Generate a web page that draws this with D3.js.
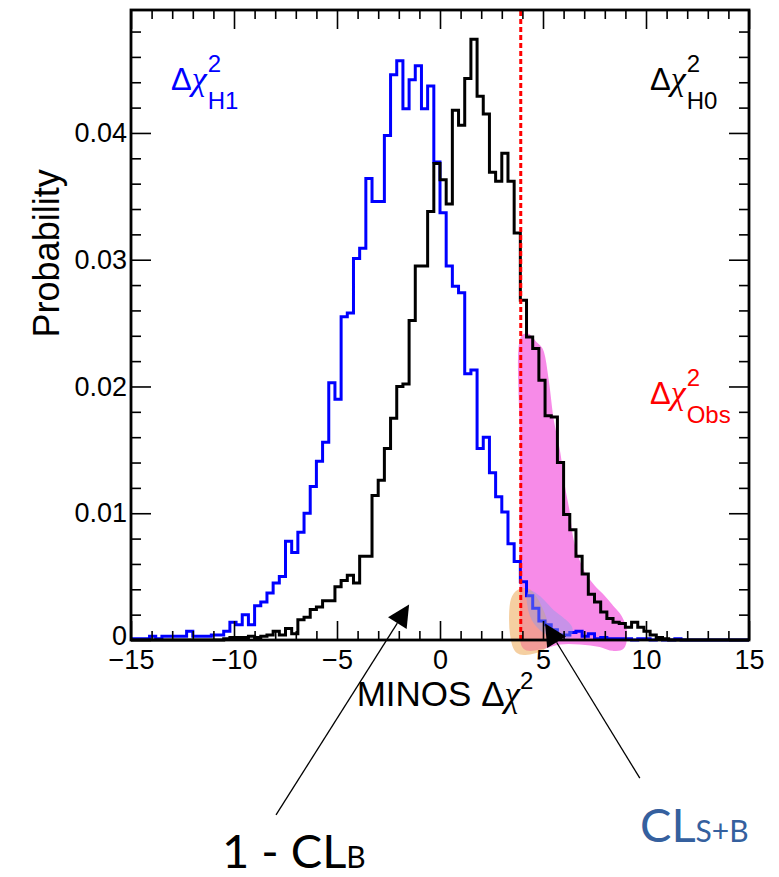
<!DOCTYPE html>
<html lang="en">
  <head>
    <meta charset="utf-8" />
    <script src="https://d3js.org/d3.v7.min.js"></script>
    <style>
      body { margin: 0; background: #fff; }
    </style>
    <title>MINOS delta chi2</title>
  </head>
  <body>
    <svg id="chart" width="779" height="877" font-family="Liberation Sans, Arial, sans-serif"></svg>
    <script>
      // histogram binning: 100 bins between -15 and 15
      const binLow = -15;
      const binWidth = 0.3;

      // Δχ² distribution for H1 (blue)
      const h1Prob = [
        0.0001, 0.0001, 0.0001, 0.0003, 0.0001, 0.0003, 0.0003, 0.0003, 0.0003, 0.0007,
        0.0003, 0.0003, 0.0003, 0.0004, 0.0004, 0.0007, 0.0014, 0.0012, 0.0020, 0.0012,
        0.0027, 0.0030, 0.0037, 0.0045, 0.0050, 0.0078, 0.0069, 0.0085, 0.0100, 0.0121,
        0.0141, 0.0156, 0.0203, 0.0190, 0.0255, 0.0258, 0.0301, 0.0309, 0.0364, 0.0346,
        0.0346, 0.0398, 0.0446, 0.0457, 0.0419, 0.0442, 0.0453, 0.0419, 0.0437, 0.0377,
        0.0337, 0.0295, 0.0279, 0.0274, 0.0210, 0.0213, 0.0151, 0.0160, 0.0132, 0.0113,
        0.0101, 0.0076, 0.0062, 0.0046, 0.0035, 0.0025, 0.0015, 0.0012, 0.0008, 0.0004,
        0.0004, 0.0006, 0.0007, 0.0003, 0.0005, 0.0001, 0.0002, 0.0001, 0.0001, 0.0001,
        0.0001, 0.0000, 0.0001, 0.0001, 0.0000, 0.0001, 0.0000, 0.0000, 0.0001, 0.0000,
        0.0000, 0.0000, 0.0000, 0.0000, 0.0000, 0.0000, 0.0000, 0.0000, 0.0000, 0.0000
      ];

      // Δχ² distribution for H0 (black)
      const h0Prob = [
        0, 0, 0, 0, 0, 0, 0, 0, 0, 0,
        0, 0, 0, 0, 0, 0.0001, 0.0002, 0.0002, 0.0002, 0.0003,
        0.0002, 0.0003, 0.0004, 0.0007, 0.0004, 0.0009, 0.0005, 0.0016, 0.0018, 0.0024,
        0.0026, 0.0031, 0.0031, 0.0042, 0.0047, 0.0051, 0.0045, 0.0066, 0.0066, 0.0114,
        0.0126, 0.0151, 0.0175, 0.0200, 0.0202, 0.0252, 0.0295, 0.0295, 0.0338, 0.0376,
        0.0363, 0.0344, 0.0418, 0.0406, 0.0443, 0.0474, 0.0429, 0.0415, 0.0369, 0.0362,
        0.0384, 0.0362, 0.0321, 0.0268, 0.0239, 0.0230, 0.0205, 0.0177, 0.0176, 0.0140,
        0.0099, 0.0087, 0.0066, 0.0052, 0.0036, 0.0030, 0.0022, 0.0017, 0.0014, 0.0013,
        0.0010, 0.0014, 0.0010, 0.0007, 0.0004, 0.0002, 0.0001, 0, 0, 0,
        0, 0, 0, 0, 0, 0, 0, 0, 0, 0
      ];

      const obsChi2 = 3.92;

      const xMajor = [-15, -10, -5, 0, 5, 10, 15];
      const yMajor = [0, 0.01, 0.02, 0.03, 0.04];

      // hand-drawn highlight outlines, [Δχ², probability]
      const highlightMagenta = [
        [4.03, 0.0239], [4.27, 0.0240], [4.61, 0.0234], [4.9, 0.0229], [5.18, 0.0205],
        [5.42, 0.0174], [5.74, 0.0148], [5.97, 0.0121], [6.21, 0.0100], [6.39, 0.0079],
        [6.88, 0.0055], [7.43, 0.0042], [7.91, 0.0034], [8.33, 0.0026], [8.74, 0.0018],
        [8.98, 0.0006], [8.83, -0.0006], [8.4, -0.0007], [7.77, -0.0004], [6.8, -0.0002],
        [5.83, -0.0002], [4.85, -0.0006], [4.13, -0.0006], [3.98, 0.0032], [3.98, 0.015]
      ];
      const highlightOrange = [
        [3.54, 0.0032], [3.79, 0.0038], [4.27, 0.0039], [4.61, 0.0033], [4.9, 0.0024],
        [5.15, 0.0012], [5.15, -0.0004], [4.61, -0.0009], [3.79, -0.0009], [3.5, 0.0004]
      ];
      const highlightLavender = [
        [4.37, 0.0037], [4.85, 0.0032], [5.44, 0.0022], [5.92, 0.0016], [6.31, 0.0009],
        [6.21, 0.0003], [5.58, 0.0004], [4.95, 0.0009], [4.47, 0.002]
      ];

      // annotation arrows, tail -> tip
      const arrows = [
        { from: [-7.96, -0.0138], to: [-1.5, 0.0028] },
        { from: [9.7, -0.0109], to: [5.1, 0.0013] }
      ];

      const svg = d3.select("#chart");
      const margin = { top: 10, right: 30, bottom: 237, left: 131 };
      const width = 779 - margin.left - margin.right;
      const height = 877 - margin.top - margin.bottom;

      const x = d3.scaleLinear().domain([-15, 15]).range([margin.left, margin.left + width]);
      const y = d3.scaleLinear().domain([0, 0.0497]).range([margin.top + height, margin.top]);

      const blob = d3.line()
        .x(d => x(d[0]))
        .y(d => y(d[1]))
        .curve(d3.curveCatmullRomClosed.alpha(0.5));

      svg.append("path")
        .attr("d", blob(highlightMagenta))
        .attr("fill", "#f78be8")
        .attr("stroke", "#f78be8")
        .attr("stroke-width", 4)
        .attr("stroke-linejoin", "round");

      svg.append("g").attr("opacity", 0.55)
        .append("path")
        .attr("d", blob(highlightOrange))
        .attr("fill", "#eea955")
        .attr("stroke", "#eea955")
        .attr("stroke-width", 4)
        .attr("stroke-linejoin", "round");

      // histograms
      const stepLine = d3.line()
        .x(d => x(d[0]))
        .y(d => y(d[1]))
        .curve(d3.curveStepAfter);

      function histPoints(values) {
        const pts = values.map((v, i) => [binLow + i * binWidth, v]);
        pts.push([binLow + values.length * binWidth, values[values.length - 1]]);
        return pts;
      }

      svg.append("path")
        .attr("d", stepLine(histPoints(h1Prob)))
        .attr("fill", "none")
        .attr("stroke", "#0000ff")
        .attr("stroke-width", 3);

      svg.append("path")
        .attr("d", stepLine(histPoints(h0Prob)))
        .attr("fill", "none")
        .attr("stroke", "#000")
        .attr("stroke-width", 3);

      svg.append("g").attr("opacity", 0.45)
        .append("path")
        .attr("d", blob(highlightLavender))
        .attr("fill", "#8f9be8")
        .attr("stroke", "#8f9be8")
        .attr("stroke-width", 5)
        .attr("stroke-linejoin", "round");

      // observed value
      svg.append("line")
        .attr("x1", x(obsChi2)).attr("x2", x(obsChi2))
        .attr("y1", y(0)).attr("y2", margin.top)
        .attr("stroke", "#ff0000")
        .attr("stroke-width", 3)
        .attr("stroke-dasharray", "5,3");

      // axes, ROOT style ticks on all four sides
      const xMinor = d3.range(-15, 16, 1).filter(v => v % 5 !== 0);
      const yMinor = d3.range(0, 0.049, 0.002).filter(v => Math.round(v * 1000) % 10 !== 0);

      function styleAxis(g) {
        g.select(".domain").remove();
        g.selectAll("line").attr("stroke", "#000").attr("stroke-width", 1.6);
        g.selectAll("text").attr("fill", "#000").attr("font-size", 27)
          .attr("font-family", "Liberation Sans, Arial, sans-serif");
      }

      svg.append("g")
        .attr("transform", `translate(0,${y(0)})`)
        .call(d3.axisBottom(x).tickValues(xMajor).tickSizeInner(-19).tickSizeOuter(0)
          .tickPadding(10).tickFormat(d3.format("d")))
        .call(styleAxis);
      svg.append("g")
        .attr("transform", `translate(0,${y(0)})`)
        .call(d3.axisBottom(x).tickValues(xMinor).tickSizeInner(-9).tickSizeOuter(0).tickFormat(""))
        .call(styleAxis);
      svg.append("g")
        .attr("transform", `translate(0,${margin.top})`)
        .call(d3.axisTop(x).tickValues(xMajor).tickSizeInner(-19).tickSizeOuter(0).tickFormat(""))
        .call(styleAxis);
      svg.append("g")
        .attr("transform", `translate(0,${margin.top})`)
        .call(d3.axisTop(x).tickValues(xMinor).tickSizeInner(-9).tickSizeOuter(0).tickFormat(""))
        .call(styleAxis);

      const yAxis = svg.append("g")
        .attr("transform", `translate(${margin.left},0)`)
        .call(d3.axisLeft(y).tickValues(yMajor).tickSizeInner(-20).tickSizeOuter(0)
          .tickPadding(4).tickFormat(d => (d === 0 ? "0" : d3.format(".2f")(d))))
        .call(styleAxis);
      // the "0" of the y axis sits a little higher than its tick
      yAxis.selectAll("text").filter(d => d === 0).attr("dy", "0.15em");

      svg.append("g")
        .attr("transform", `translate(${margin.left},0)`)
        .call(d3.axisLeft(y).tickValues(yMinor).tickSizeInner(-10).tickSizeOuter(0).tickFormat(""))
        .call(styleAxis);
      svg.append("g")
        .attr("transform", `translate(${margin.left + width},0)`)
        .call(d3.axisRight(y).tickValues(yMajor).tickSizeInner(-20).tickSizeOuter(0).tickFormat(""))
        .call(styleAxis);
      svg.append("g")
        .attr("transform", `translate(${margin.left + width},0)`)
        .call(d3.axisRight(y).tickValues(yMinor).tickSizeInner(-10).tickSizeOuter(0).tickFormat(""))
        .call(styleAxis);

      // frame
      svg.append("rect")
        .attr("x", margin.left).attr("y", margin.top)
        .attr("width", width).attr("height", height)
        .attr("fill", "none")
        .attr("stroke", "#000")
        .attr("stroke-width", 2.8);

      // axis titles
      const xTitle = svg.append("text")
        .attr("x", 445).attr("y", 706)
        .attr("text-anchor", "middle")
        .attr("font-size", 35);
      xTitle.append("tspan").text("MINOS Δ");
      xTitle.append("tspan").text("χ")
        .attr("font-family", "Liberation Serif, serif").attr("font-style", "italic");
      xTitle.append("tspan").text("2").attr("font-size", 24).attr("dy", -17);

      svg.append("text")
        .attr("transform", `translate(59,${y(0.0305)}) rotate(-90)`)
        .attr("text-anchor", "middle")
        .attr("font-size", 36)
        .text("Probability");

      // Δχ² labels
      function chiLabel(x0, base, sub, color) {
        const main = svg.append("text")
          .attr("x", x0).attr("y", base)
          .attr("font-size", 31)
          .attr("fill", color);
        main.append("tspan").text("Δ");
        main.append("tspan").text("χ")
          .attr("font-family", "Liberation Serif, serif").attr("font-style", "italic")
          .attr("font-size", 34);
        const xs = x0 + main.node().getComputedTextLength() + 1;
        svg.append("text")
          .attr("x", xs).attr("y", base - 18)
          .attr("font-size", 24).attr("fill", color)
          .text("2");
        svg.append("text")
          .attr("x", xs).attr("y", base + 19)
          .attr("font-size", 24).attr("fill", color)
          .text(sub);
      }
      chiLabel(171, 90, "H1", "#0000ff");
      chiLabel(650, 90, "H0", "#000");
      chiLabel(650, 404, "Obs", "#ff0000");

      // arrows
      arrows.forEach(a => {
        const x1 = x(a.from[0]), y1 = y(a.from[1]);
        const x2 = x(a.to[0]), y2 = y(a.to[1]);
        const len = Math.hypot(x2 - x1, y2 - y1);
        const ux = (x2 - x1) / len, uy = (y2 - y1) / len;
        const headL = 22, headW = 11;
        const bx = x2 - ux * headL, by = y2 - uy * headL;
        svg.append("line")
          .attr("x1", x1).attr("y1", y1)
          .attr("x2", bx).attr("y2", by)
          .attr("stroke", "#000").attr("stroke-width", 1.3);
        svg.append("path")
          .attr("d", `M${x2},${y2}L${bx - uy * headW},${by + ux * headW}L${bx + uy * headW},${by - ux * headW}Z`)
          .attr("fill", "#000");
      });

      // CL annotations
      const clB = svg.append("text")
        .attr("x", 222).attr("y", 868)
        .attr("font-family", "Lato, 'Open Sans', sans-serif")
        .attr("font-size", 47)
        .attr("fill", "#000");
      clB.append("tspan").text("1 - CL");
      clB.append("tspan").text("B").attr("font-size", 30);

      const clSB = svg.append("text")
        .attr("x", 640).attr("y", 842)
        .attr("font-family", "Lato, 'Open Sans', sans-serif")
        .attr("font-size", 47)
        .attr("fill", "#35609e");
      clSB.append("tspan").text("CL");
      clSB.append("tspan").text("S+B").attr("font-size", 30);
    </script>
  </body>
</html>
